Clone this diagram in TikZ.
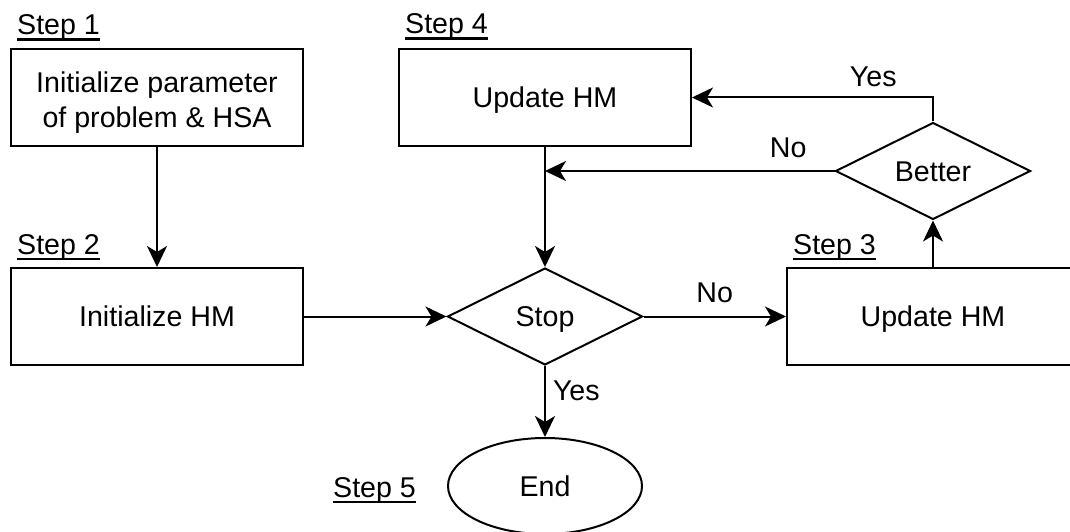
\documentclass[tikz,border=0pt]{standalone}
\usepackage{fontspec}
\setmainfont{Liberation Sans}
\usetikzlibrary{shapes.geometric,arrows.meta}
\newcommand\stepul[1]{\setbox0\hbox{#1}\rlap{\rule[-5.7pt]{\wd0}{2.2pt}}\box0}
\begin{document}
\begin{tikzpicture}[x=1pt,y=-1pt,
  every node/.style={font=\fontsize{28.6}{35}\selectfont},
  one/.style={text height=20.5pt, text depth=0pt},
  box/.style={draw, line width=2pt, minimum width=292pt, minimum height=97pt, inner sep=0pt},
  dec/.style={draw, diamond, line width=2pt, minimum width=195pt, minimum height=97pt, inner sep=0pt, one},
  term/.style={draw, ellipse, line width=2pt, minimum width=194pt, minimum height=96pt, inner sep=0pt, one},
  steplbl/.style={anchor=base west, inner sep=0pt},
  lbl/.style={inner sep=0pt},
  arr/.style={line width=2pt, -{Stealth[length=21pt,width=20pt,inset=6pt]}}]
\useasboundingbox (0,0) rectangle (1070,532);
\clip (0,0) rectangle (1070,532);

\node[box, text height=22.5pt, text depth=33pt] (b1) at (157,97.5) {\begin{tabular}[t]{@{}c@{}}Initialize parameter\\of problem \& HSA\end{tabular}};
\node[box, one] (b2) at (157,316.5) {Initialize HM};
\node[box, one] (b4) at (545,97.5) {Update HM};
\node[box, one] (b3) at (933,316.5) {Update HM};
\node[dec] (stop) at (545,316.5) {Stop};
\node[dec] (better) at (933,171) {Better};
\node[term] (end) at (545,486) {End};

\node[steplbl] (s1) at (17,35) {\stepul{Step 1}};
\node[steplbl] (s2) at (17,254) {\stepul{Step 2}};
\node[steplbl] (s4) at (405,34) {\stepul{Step 4}};
\node[steplbl] (s3) at (793,254) {\stepul{Step 3}};
\node[steplbl] (s5) at (333,497) {\stepul{Step 5}};

\draw[arr] (b1) -- (b2);
\draw[arr] (b2) -- (stop);
\draw[arr] (stop) -- node[lbl, midway, above=13pt] {No} (b3);
\draw[arr] (stop) -- node[lbl, pos=0.35, right=7pt] {Yes} (end);
\draw[arr] (b3) -- (better);
\draw[arr] (better.north) |- node[lbl, pos=0.624, above=10pt] {Yes} (b4.east);
\draw[arr] (better.west) -- node[lbl, pos=0.16, above=12pt] {No} (stop.north |- better.west);
\draw[arr] (b4) -- (stop);
\end{tikzpicture}
\end{document}
